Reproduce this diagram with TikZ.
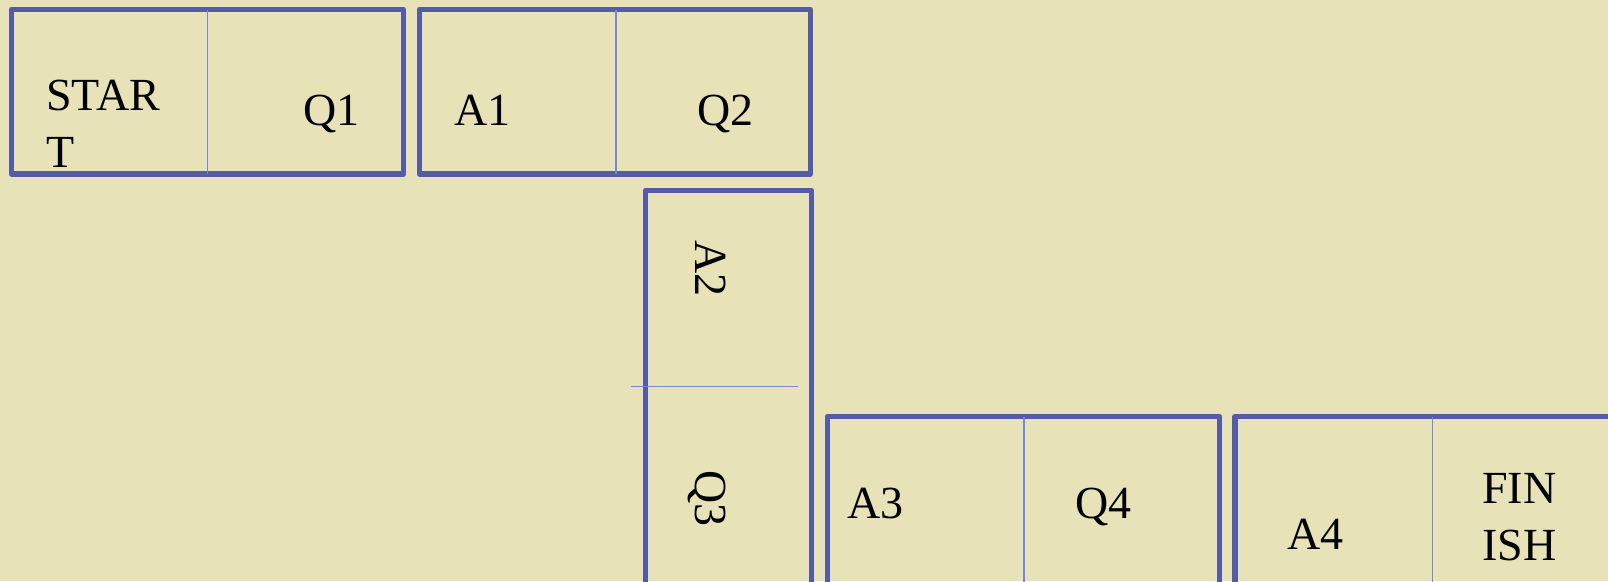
\documentclass[tikz,border=0pt]{standalone}
\usepackage{fontspec}
\setmainfont{Liberation Serif}
\definecolor{bg}{RGB}{232,226,184}
\definecolor{frame}{RGB}{84,92,168}
\definecolor{divline}{RGB}{120,132,226}
\tikzset{
  outerbox/.style={draw=frame, line width=5.2pt, line join=round},
  divider/.style={draw=divline, line width=1.4pt},
  lbl/.style={inner sep=0pt, anchor=base west, font=\fontsize{46}{57}\selectfont, text=black, align=left},
}
\begin{document}
\begin{tikzpicture}[x=1pt,y=-1pt]
\useasboundingbox (0,0) rectangle (1608,581);
\fill[bg] (0,0) rectangle (1608,581);
\clip (0,0) rectangle (1608,581);
% box 1
\draw[outerbox] (11.5,9.5) rectangle (403.5,174);
\draw[divider] (207.5,9.5) -- (207.5,174);
\node[lbl] (start) at (46,167) {STAR\\T};
\node[lbl] (q1) at (303,125) {Q1};
% box 2
\draw[outerbox] (419.5,9.5) rectangle (810.5,174);
\draw[divider] (616,9.5) -- (616,174);
\node[lbl] (a1) at (454,125) {A1};
\node[lbl] (q2) at (697,125) {Q2};
% vertical box
\draw[outerbox] (645.5,190.5) rectangle (811.5,600);
\draw[divider] (631,386.7) -- (797.7,386.7);
\node[lbl, rotate=-90] (a2) at (695,240) {A2};
\node[lbl, rotate=-90] (q3) at (695,470) {Q3};
% box 3
\draw[outerbox] (827.5,416.5) rectangle (1219.5,600);
\draw[divider] (1024,416.5) -- (1024,600);
\node[lbl] (a3) at (847,518.3) {A3};
\node[lbl] (q4) at (1075,518.3) {Q4};
% box 4
\draw[outerbox] (1235,416.5) rectangle (1640,600);
\draw[divider] (1432.3,416.5) -- (1432.3,600);
\node[lbl] (a4) at (1287,549) {A4};
\node[lbl] (finish) at (1482,560.7) {FIN\\ISH};
\end{tikzpicture}
\end{document}
